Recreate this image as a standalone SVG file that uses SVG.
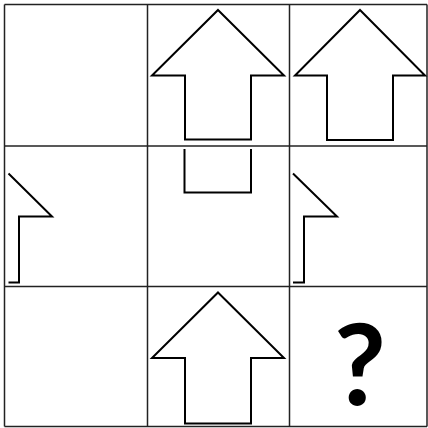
<svg xmlns="http://www.w3.org/2000/svg" width="428" height="428" viewBox="0 0 428 428">
<style>
.grid{stroke:#222;stroke-width:1.5;fill:none}
.shape{stroke:#000;stroke-width:2;fill:none;stroke-linejoin:miter}
.q{font-family:Lato,"Open Sans",sans-serif;font-size:113px;font-weight:bold;fill:#000}
</style>
<rect width="428" height="428" fill="#fff"/>
<g id="grid" class="grid">
<line x1="4.5" y1="4.5" x2="427" y2="4.5"/>
<line x1="4.5" y1="146" x2="427" y2="146"/>
<line x1="4.5" y1="286.5" x2="427" y2="286.5"/>
<line x1="4.5" y1="426.5" x2="427" y2="426.5"/>
<line x1="4.5" y1="4.5" x2="4.5" y2="426.5"/>
<line x1="147.5" y1="4.5" x2="147.5" y2="426.5"/>
<line x1="289.5" y1="4.5" x2="289.5" y2="426.5"/>
<line x1="427" y1="4.5" x2="427" y2="426.5"/>
</g>
<g id="arrow-r1c2"><polygon class="shape" points="218,10 284,75.5 251,75.5 251,139.5 185,139.5 185,75.5 152,75.5"/></g>
<g id="arrow-r1c3"><polygon class="shape" points="360,10 425,75.5 393,75.5 393,140 327,140 327,75.5 295,75.5"/></g>
<g id="shape-r2c1"><polyline class="shape" points="8.5,173.5 52,216.5 19,216.5 19,282.5 8.5,282.5"/></g>
<g id="shape-r2c2"><polyline class="shape" points="184.5,149 184.5,192.5 251,192.5 251,149"/></g>
<g id="shape-r2c3"><polyline class="shape" points="293,173.5 337,216.5 304,216.5 304,282.5 293,282.5"/></g>
<g id="arrow-r3c2"><polygon class="shape" points="218,292.5 284,358 251,358 251,423.5 185,423.5 185,358 152,358"/></g>
<g id="question"><text class="q" x="360" y="405" text-anchor="middle">?</text></g>
</svg>
